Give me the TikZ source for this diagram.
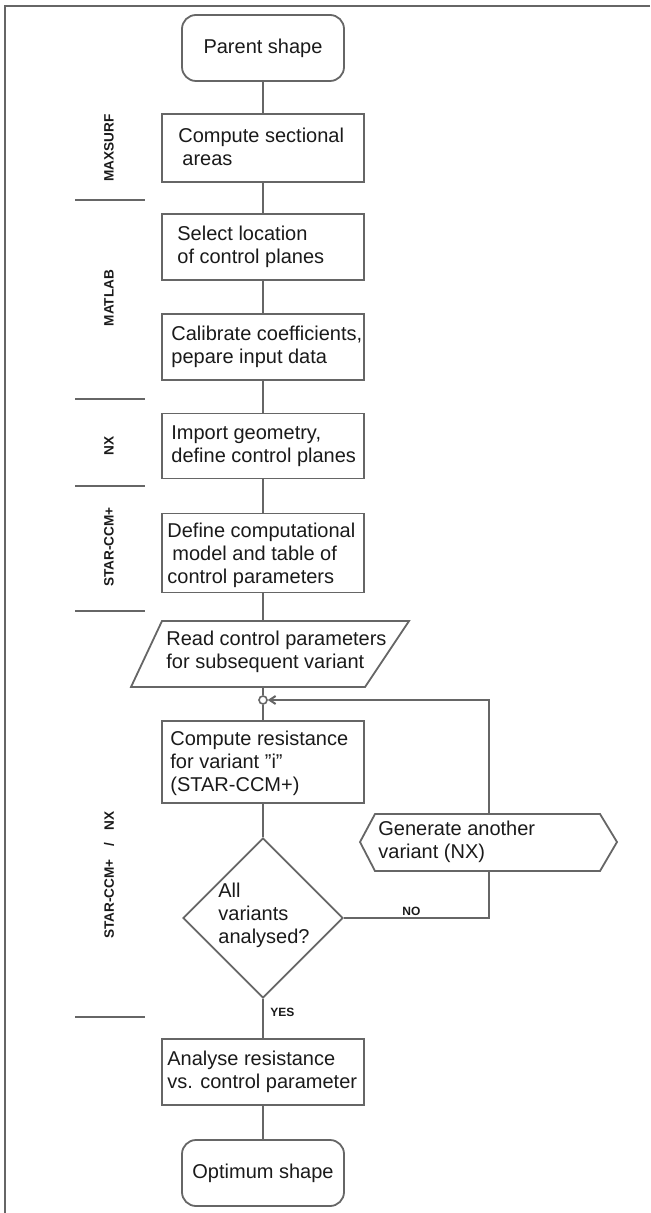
\documentclass[tikz,border=0pt]{standalone}
\usepackage{fontspec}
\setmainfont{Liberation Sans}
\usetikzlibrary{shapes.geometric,arrows.meta}
\definecolor{lc}{HTML}{666666}
\definecolor{tc}{HTML}{1A1A1A}
\begin{document}
\begin{tikzpicture}[x=0.5pt,y=-0.5pt,
  line/.style={draw=lc,line width=1pt},
  box/.style={draw=lc,line width=0.9pt,rectangle,minimum width=101pt,inner sep=0pt},
  term/.style={draw=lc,line width=0.9pt,rectangle,rounded corners=7pt,minimum width=81pt,minimum height=33pt,inner sep=0pt,font=\fontsize{10}{11.5}\selectfont,text=tc},
  txt/.style={anchor=west,align=left,inner sep=0pt,font=\fontsize{10}{11.5}\selectfont,text=tc},
  side/.style={rotate=90,font=\fontsize{6.8}{7}\selectfont\bfseries,text=tc,inner sep=0pt},
  sepline/.style={draw=lc,line width=1.1pt},
  small/.style={font=\fontsize{6}{7}\selectfont\bfseries,text=tc,inner sep=0pt},
  shapeline/.style={draw=lc,line width=0.9pt}]
\useasboundingbox (0,0) rectangle (650,1213);
\draw[lc,line width=1pt] (650,6) -- (5,6) -- (5,1213);

% main column
\node[term] (ps) at (263,48) {Parent shape};
\node[box,minimum height=34pt] (b1) at (263,148) {};
\node[txt] (t1) at (178,147) {Compute sectional\\\hspace*{2pt}areas};
\node[box,minimum height=33pt] (b2) at (263,247) {};
\node[txt] (t2) at (177,247) {Select location\\of control planes};
\node[box,minimum height=33pt] (b3) at (263,347) {};
\node[txt] (t3) at (171,347) {Calibrate coefficients,\\pepare input data};
\node[box,minimum height=32.5pt] (b4) at (263,446) {};
\node[txt] (t4) at (171,446) {Import geometry,\\define control planes};
\node[box,minimum height=39.5pt] (b5) at (263,553) {};
\node[txt] (t5) at (167,555) {Define computational\\\hspace*{2.5pt}model and table of\\control parameters};

% parallelogram
\node[rectangle,minimum width=101pt,minimum height=33pt,inner sep=0pt] (p) at (263,654) {};
\draw[shapeline] (162,621) -- (409,621) -- (365,687) -- (131,687) -- cycle;
\node[txt] (tp) at (166,652) {Read control parameters\\for subsequent variant};

% junction
\node[circle,draw=lc,line width=0.8pt,fill=white,minimum size=4pt,inner sep=0pt] (j) at (263,700) {};

\node[box,minimum height=41pt] (b6) at (263,762) {};
\node[txt] (t6) at (170,763) {Compute resistance\\for variant \symbol{34}i\symbol{34}\\(STAR-CCM+)};

% decision
\node[diamond,draw=lc,line width=0.9pt,minimum width=80pt,minimum height=80pt,inner sep=0pt] (d) at (263,918) {};
\node[txt] (td) at (218,915) {All\\variants\\analysed?};

% hexagon
\node[rectangle,minimum width=112.5pt,minimum height=28.5pt,inner sep=0pt] (h) at (489,842.5) {};
\draw[shapeline] (360,842) -- (375,814) -- (600,814) -- (617,842) -- (600,871) -- (375,871) -- cycle;
\node[txt] (th) at (378,842) {Generate another\\variant (NX)};

\node[box,minimum height=33pt] (b7) at (263,1072) {};
\node[txt] (t7) at (167,1072) {Analyse resistance\\vs. control parameter};
\node[term] (opt) at (263,1173) {Optimum shape};

% connectors
\draw[line] (ps) -- (b1);
\draw[line] (b1) -- (b2);
\draw[line] (b2) -- (b3);
\draw[line] (b3) -- (b4);
\draw[line] (b4) -- (b5);
\draw[line] (b5) -- (p);
\draw[line] (p) -- (j);
\draw[line] (j) -- (b6);
\draw[line] (b6) -- (d);
\draw[line] (d) -- (b7);
\draw[line] (b7) -- (opt);
\draw[line] (d.east) -| (h.south);
\draw[line,-{Straight Barb[length=3pt,width=4pt]}] (h.north) |- (j.east);

\node[small,anchor=west] (no) at (402,911) {NO};
\node[small,anchor=west] (yes) at (270,1012) {YES};

% side labels
\node[side] (s1) at (109,148) {MAXSURF};
\node[side] (s2) at (109,298) {MATLAB};
\node[side] (s3) at (109,446) {NX};
\node[side] (s4) at (109,547) {STAR-CCM+};
\node[side] (s5) at (109,875) {STAR-CCM+\hspace{6.5pt}/\hspace{6pt}NX};

\draw[sepline] (75,200) -- (145,200);
\draw[sepline] (75,399) -- (145,399);
\draw[sepline] (75,486) -- (145,486);
\draw[sepline] (75,611) -- (145,611);
\draw[sepline] (75,1017) -- (145,1017);
\end{tikzpicture}
\end{document}
